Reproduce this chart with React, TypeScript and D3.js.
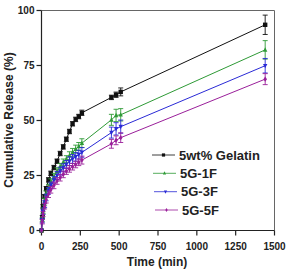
import * as d3 from 'd3'
import { FC } from 'react'

// sampling times (min)
const times = [0, 5, 10, 20, 30, 45, 60, 80, 100, 120, 140, 160, 180, 200, 220, 240, 260, 450, 480, 510, 1440]

const gelatin = [0, 6, 11, 15.5, 19, 23, 26, 28.6, 31.5, 35, 38, 41.5, 45, 48.5, 50.5, 51.8, 53.5, 60.5, 61.7, 63, 93.5]
const gelatinErr = [0, 0.8, 0.8, 0.8, 1, 1, 1, 1, 1, 1, 1, 1, 1, 1, 1, 1, 1.2, 1, 1.2, 1.8, 4.4]
const g1f = [0, 5, 9, 13, 16.5, 19.5, 22, 24.5, 27, 29, 31, 32.5, 34, 35.5, 37, 38.2, 39.7, 50.3, 52.3, 52.6, 82.1]
const g1fErr = [0, 1, 1.2, 1.5, 1.5, 1.5, 1.5, 1.5, 1.5, 1.5, 1.5, 1.5, 1.8, 1.8, 1.8, 1.8, 2, 2.5, 2.8, 2.8, 4.2]
const g3f = [0, 4.5, 8.5, 12, 15, 18, 20.5, 23, 25, 27, 28.5, 30, 31.5, 32.5, 33.5, 34.5, 35.5, 44.5, 46.2, 47.2, 74.9]
const g3fErr = [0, 1, 1.2, 1.5, 1.5, 1.5, 1.5, 1.5, 1.8, 1.8, 1.8, 1.8, 2, 2, 2, 2, 2.2, 2.5, 2.8, 3, 3.3]
const g5f = [0, 4, 7.5, 11, 14, 16.5, 18.5, 20.5, 22.5, 24, 25.5, 27, 28, 29, 30, 31, 32, 39.4, 41, 42.2, 68.8]
const g5fErr = [0, 1, 1.2, 1.2, 1.5, 1.5, 1.5, 1.5, 1.5, 1.5, 1.5, 1.5, 1.5, 1.5, 1.5, 1.5, 1.8, 2, 2, 2.2, 2.5]

const xTicks = [0, 250, 500, 750, 1000, 1250, 1500]
const yTicks = [0, 25, 50, 75, 100]

const series = [
  { name: '5wt% Gelatin', values: gelatin, err: gelatinErr, color: '#111111', marker: 'square' },
  { name: '5G-1F', values: g1f, err: g1fErr, color: '#2e9a36', marker: 'triangleUp' },
  { name: '5G-3F', values: g3f, err: g3fErr, color: '#2a2ad6', marker: 'triangleDown' },
  { name: '5G-5F', values: g5f, err: g5fErr, color: '#9a1f9a', marker: 'diamond' },
]

const font = '"Liberation Sans", Arial, sans-serif'

const Marker: FC<{ kind: string, x: number, y: number, color: string, s?: number }> = ({ kind, x, y, color, s = 2.2 }) => {
  if (kind === 'square') return <rect x={x - s} y={y - s} width={s * 2} height={s * 2} fill={color} />
  if (kind === 'triangleUp') return <path d={`M${x},${y - s - 0.4}L${x + s},${y + s - 0.4}L${x - s},${y + s - 0.4}Z`} fill={color} />
  if (kind === 'triangleDown') return <path d={`M${x},${y + s + 0.4}L${x + s},${y - s + 0.4}L${x - s},${y - s + 0.4}Z`} fill={color} />
  return <path d={`M${x},${y - s - 0.4}L${x + s - 0.4},${y}L${x},${y + s + 0.4}L${x - s + 0.4},${y}Z`} fill={color} />
}

const App: FC = () => {
  const width = 289
  const height = 271
  const x = d3.scaleLinear().domain([0, 1500]).range([41.5, 274.5])
  const y = d3.scaleLinear().domain([0, 100]).range([230.5, 10.5])
  const line = d3.line<number>().x((d, i) => x(times[i])).y(d => y(d))
  // legend rows (slightly staggered like the original)
  const legendY = [155, 173.3, 191.7, 210]
  const legendX = [152, 153, 154, 155]

  return (
    <svg width={width} height={height} style={{ position: 'absolute', left: 0, top: 0, background: '#fff' }}>
      {/* frame */}
      <line x1={x(0)} x2={x(1500)} y1={y(100)} y2={y(100)} stroke="#666" strokeWidth={1} />
      <line x1={x(1500)} x2={x(1500)} y1={y(100)} y2={y(0)} stroke="#666" strokeWidth={1} />
      <line x1={x(0)} x2={x(0)} y1={y(100)} y2={y(0)} stroke="#222" strokeWidth={1.2} />
      <line x1={x(0)} x2={x(1500)} y1={y(0)} y2={y(0)} stroke="#222" strokeWidth={1.2} />
      {yTicks.map(t => (
        <g key={`y${t}`}>
          <line x1={x(0) - 5} x2={x(0)} y1={y(t)} y2={y(t)} stroke="#222" strokeWidth={1.2} />
          <text x={x(0) - 7} y={y(t)} dy="0.36em" textAnchor="end" fontFamily={font} fontWeight="bold" fontSize={10} fill="#222">{t}</text>
        </g>
      ))}
      {xTicks.map(t => (
        <g key={`x${t}`}>
          <line x1={x(t)} x2={x(t)} y1={y(0)} y2={y(0) + 5} stroke="#222" strokeWidth={1.2} />
          <text x={x(t)} y={249.5} textAnchor="middle" fontFamily={font} fontWeight="bold" fontSize={10} fill="#222">{t}</text>
        </g>
      ))}
      <text x={157} y={266} textAnchor="middle" fontFamily={font} fontWeight="bold" fontSize={12} fill="#222">Time (min)</text>
      <text transform="translate(13,120) rotate(-90)" textAnchor="middle" fontFamily={font} fontWeight="bold" fontSize={12} fill="#222">Cumulative Release (%)</text>

      {series.map(s => (
        <g key={s.name}>
          <path d={line(s.values) as string} fill="none" stroke={s.color} strokeWidth={1} />
          {s.values.map((v, i) => s.err[i] > 0 && (
            <g key={i} stroke={s.color} strokeWidth={0.9}>
              <line x1={x(times[i])} x2={x(times[i])} y1={y(v - s.err[i])} y2={y(v + s.err[i])} />
              <line x1={x(times[i]) - 2.5} x2={x(times[i]) + 2.5} y1={y(v - s.err[i])} y2={y(v - s.err[i])} />
              <line x1={x(times[i]) - 2.5} x2={x(times[i]) + 2.5} y1={y(v + s.err[i])} y2={y(v + s.err[i])} />
            </g>
          ))}
          {s.values.map((v, i) => (
            <Marker key={`m${i}`} kind={s.marker} x={x(times[i])} y={y(v)} color={s.color} />
          ))}
        </g>
      ))}

      {series.map((s, i) => (
        <g key={`leg${s.name}`}>
          <line x1={legendX[i]} x2={legendX[i] + 23} y1={legendY[i]} y2={legendY[i]} stroke={s.color} strokeWidth={1} opacity={0.8} />
          <Marker kind={s.marker} x={legendX[i] + 11.5} y={legendY[i]} color={s.color} s={1.6} />
          <text x={legendX[i] + 27} y={legendY[i]} dy="0.36em" fontFamily={font} fontWeight="bold" fontSize={13} fill="#222">{s.name}</text>
        </g>
      ))}
    </svg>
  )
}

export default App
